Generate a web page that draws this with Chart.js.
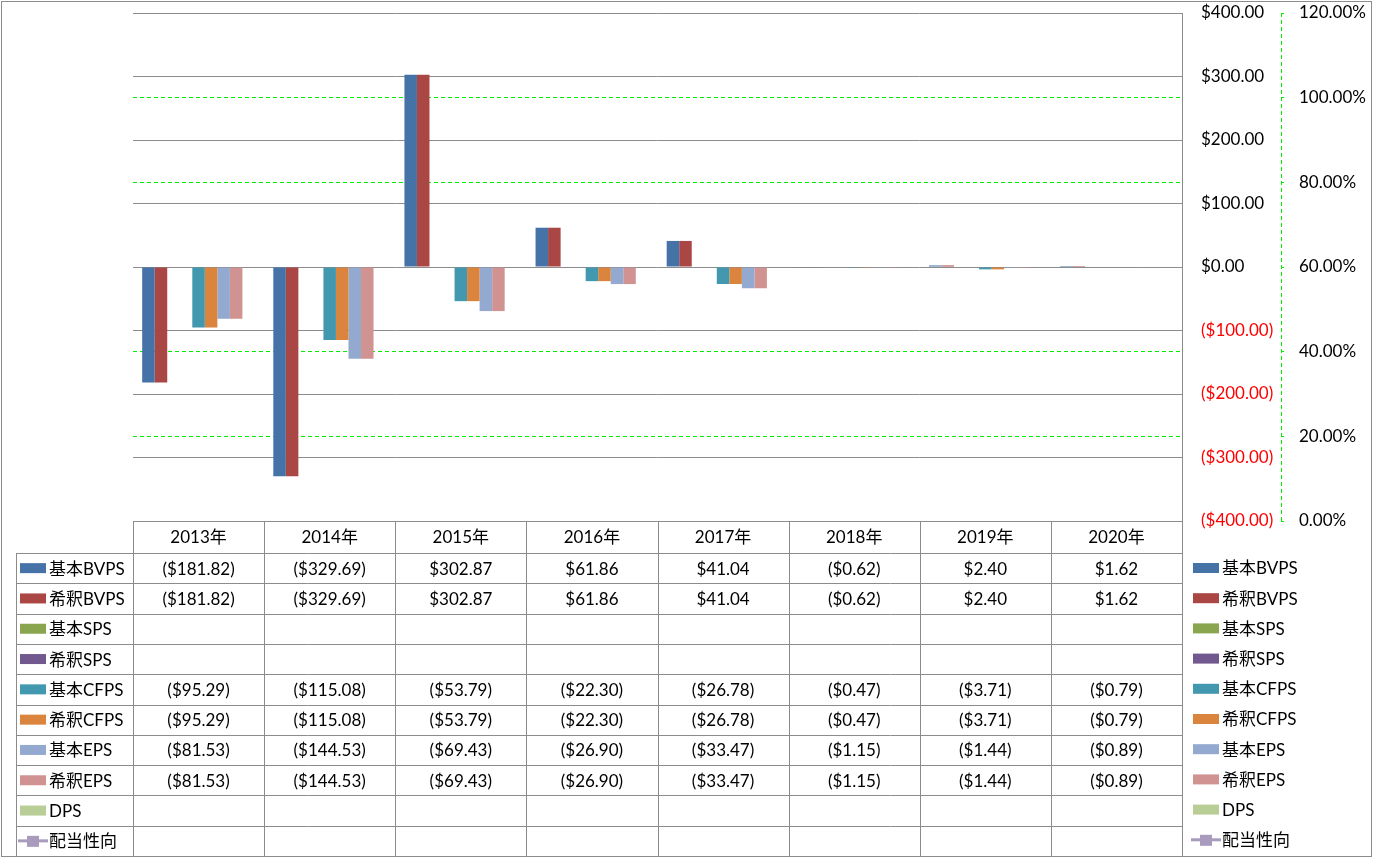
<!DOCTYPE html>
<html>
<head>
<meta charset="utf-8">
<script src="https://cdn.jsdelivr.net/npm/chart.js@4"></script>
<style>
  html, body { margin: 0; padding: 0; background: #fff; }
  #wrap { width: 1373px; height: 858px; }
</style>
</head>
<body>
<div id="wrap"><canvas id="mixed-chart" width="1373" height="858"></canvas></div>
<script>
const years = ['2013年', '2014年', '2015年', '2016年', '2017年', '2018年', '2019年', '2020年'];

const basicBVPS = [-181.82, -329.69, 302.87, 61.86, 41.04, -0.62, 2.40, 1.62];
const dilutedBVPS = [-181.82, -329.69, 302.87, 61.86, 41.04, -0.62, 2.40, 1.62];
const basicSPS = [null, null, null, null, null, null, null, null];
const dilutedSPS = [null, null, null, null, null, null, null, null];
const basicCFPS = [-95.29, -115.08, -53.79, -22.30, -26.78, -0.47, -3.71, -0.79];
const dilutedCFPS = [-95.29, -115.08, -53.79, -22.30, -26.78, -0.47, -3.71, -0.79];
const basicEPS = [-81.53, -144.53, -69.43, -26.90, -33.47, -1.15, -1.44, -0.89];
const dilutedEPS = [-81.53, -144.53, -69.43, -26.90, -33.47, -1.15, -1.44, -0.89];
const dps = [null, null, null, null, null, null, null, null];
const payoutRatio = [null, null, null, null, null, null, null, null];

const FONT = 'Lato, "Noto Sans CJK JP", sans-serif';
const GREEN = '#00ee00';

const money = v => v < 0 ? '($' + Math.abs(v).toFixed(2) + ')' : '$' + v.toFixed(2);

const bar = (label, data, color) => ({
    type: 'bar', label: label, data: data, backgroundColor: color, yAxisID: 'y'
});

const datasets = [
    bar('基本BVPS', basicBVPS, '#4572A7'),
    bar('希釈BVPS', dilutedBVPS, '#AA4643'),
    bar('基本SPS', basicSPS, '#89A54E'),
    bar('希釈SPS', dilutedSPS, '#71588F'),
    bar('基本CFPS', basicCFPS, '#4198AF'),
    bar('希釈CFPS', dilutedCFPS, '#DB843D'),
    bar('基本EPS', basicEPS, '#93A9CF'),
    bar('希釈EPS', dilutedEPS, '#D19392'),
    bar('DPS', dps, '#B9CD96'),
    {
        type: 'line', label: '配当性向', data: payoutRatio, yAxisID: 'y2',
        borderColor: '#A99BBD', backgroundColor: '#A99BBD', borderWidth: 3
    }
];

// data table + right legend, drawn under the plot like Excel does
const dataTable = {
    id: 'dataTable',
    afterDraw(chart) {
        const {ctx, chartArea} = chart;
        const y2 = chart.scales.y2;
        const n = years.length;
        const colW = (chartArea.right - chartArea.left) / n;
        const top = chartArea.bottom;
        const headH = 32;
        const rowH = 30.3;
        const labelLeft = 16;
        const rows = chart.data.datasets;
        const bottom = top + headH + rowH * rows.length;

        ctx.save();
        // dashed secondary axis line
        ctx.strokeStyle = GREEN;
        ctx.setLineDash([4, 3]);
        ctx.beginPath();
        ctx.moveTo(Math.round(y2.left) + 0.5, y2.top);
        ctx.lineTo(Math.round(y2.left) + 0.5, y2.bottom);
        ctx.stroke();
        ctx.setLineDash([]);

        ctx.strokeStyle = '#8c8c8c';
        ctx.lineWidth = 1;
        ctx.beginPath();
        ctx.moveTo(chartArea.left, top + 0.5);
        ctx.lineTo(chartArea.right, top + 0.5);
        for (let r = 0; r <= rows.length; r++) {
            const y = Math.round(top + headH + r * rowH) + 0.5;
            ctx.moveTo(labelLeft, y);
            ctx.lineTo(chartArea.right, y);
        }
        for (let c = 0; c <= n; c++) {
            const x = Math.round(chartArea.left + c * colW) + 0.5;
            ctx.moveTo(x, top);
            ctx.lineTo(x, bottom);
        }
        ctx.moveTo(labelLeft + 0.5, top + headH);
        ctx.lineTo(labelLeft + 0.5, bottom);
        ctx.stroke();

        ctx.font = '17px ' + FONT;
        ctx.fillStyle = '#000';
        ctx.textBaseline = 'middle';
        ctx.textAlign = 'center';
        years.forEach((yr, i) => {
            ctx.fillText(yr, chartArea.left + (i + 0.5) * colW, top + headH / 2 + 1);
        });

        const drawKey = (ds, x, y) => {
            if (ds.type === 'line') {
                ctx.strokeStyle = ds.borderColor;
                ctx.lineWidth = 3;
                ctx.beginPath();
                ctx.moveTo(x - 2, y);
                ctx.lineTo(x + 28, y);
                ctx.stroke();
                ctx.fillStyle = ds.backgroundColor;
                ctx.fillRect(x + 7, y - 5, 12, 11);
            } else {
                ctx.fillStyle = ds.backgroundColor;
                ctx.fillRect(x, y - 5, 26, 10);
            }
        };

        rows.forEach((ds, r) => {
            const cy = top + headH + (r + 0.5) * rowH;
            drawKey(ds, 20, cy);
            ctx.fillStyle = '#000';
            ctx.textAlign = 'left';
            ctx.fillText(ds.label, 49, cy + 1);
            ctx.textAlign = 'center';
            ds.data.forEach((v, i) => {
                if (v === null) return;
                ctx.fillText(money(v), chartArea.left + (i + 0.5) * colW, cy + 1);
            });
            // legend on the right
            const ly = 568 + r * 30.2;
            drawKey(ds, 1193, ly);
            ctx.fillStyle = '#000';
            ctx.textAlign = 'left';
            ctx.fillText(ds.label, 1222, ly + 1);
        });

        // outer chart border
        ctx.strokeStyle = '#8c8c8c';
        ctx.lineWidth = 1;
        ctx.strokeRect(1.5, 1.5, 1370, 855);
        ctx.restore();
    }
};

Chart.defaults.font.family = FONT;
Chart.defaults.font.size = 17;
Chart.defaults.color = '#000';

const noPad = (w) => s => { s.width = w; s.paddingTop = 0; s.paddingBottom = 0; };

new Chart(document.getElementById('mixed-chart'), {
    data: {
        labels: years,
        datasets: datasets
    },
    options: {
        responsive: false,
        animation: false,
        categoryPercentage: 0.86,
        barPercentage: 1,
        layout: { padding: { left: 133, top: 13, right: 0, bottom: 337 } },
        plugins: {
            legend: { display: false },
            tooltip: { enabled: false }
        },
        scales: {
            x: { display: false },
            y: {
                position: 'right',
                min: -400,
                max: 400,
                afterFit: noPad(99),
                ticks: {
                    stepSize: 100,
                    padding: 19,
                    callback: v => money(v),
                    color: c => c.tick.value < 0 ? '#ff0000' : '#000'
                },
                grid: { color: '#8c8c8c', drawTicks: false },
                border: { color: '#8c8c8c' }
            },
            y2: {
                position: 'right',
                min: 0,
                max: 120,
                afterFit: noPad(92),
                ticks: {
                    stepSize: 20,
                    padding: 15,
                    callback: v => v.toFixed(2) + '%'
                },
                grid: {
                    color: c => (c.tick && (c.tick.value === 0 || c.tick.value === 60 || c.tick.value === 120)) ? 'rgba(0,0,0,0)' : GREEN,
                    tickColor: GREEN,
                    tickLength: 3
                },
                border: { display: false, dash: [4, 3] }
            }
        }
    },
    plugins: [dataTable]
});
</script>
</body>
</html>
